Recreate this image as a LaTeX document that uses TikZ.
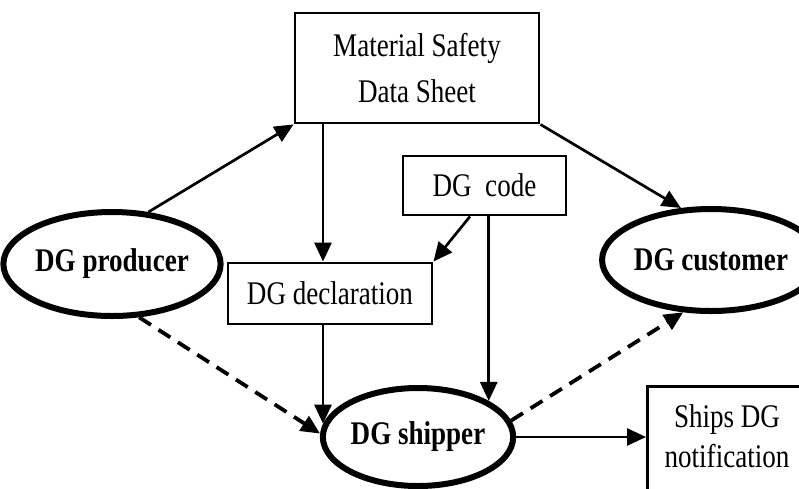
\documentclass[tikz,border=0pt]{standalone}
\usepackage{fontspec}
\setmainfont{Liberation Serif}[FakeStretch=0.82]
\usetikzlibrary{arrows.meta,shapes.geometric}

\tikzset{
  txt/.style={font=\fontsize{33}{46}\selectfont, align=center},
  doc/.style={txt, draw, line width=2.9pt, rectangle, inner sep=0pt},
  party/.style={txt, font=\fontsize{33}{46}\selectfont\bfseries, draw,
    line width=6pt, ellipse, inner sep=0pt},
  flow/.style={line width=2.7pt, -{Triangle[length=19pt,width=17pt]}},
  dflow/.style={flow, line width=3.8pt, dash pattern=on 14pt off 9pt}
}

\begin{document}
\begin{tikzpicture}[x=1pt, y=-1pt]
  \useasboundingbox (0,0) rectangle (799,488);

  % documents
  \node[doc, minimum width=244pt, minimum height=110pt] (msds) at (417,68)
    {Material Safety\\Data Sheet};
  \node[doc, minimum width=163pt, minimum height=59pt] (code) at (484.5,185.5)
    {DG\ \ code};
  \node[doc, minimum width=204pt, minimum height=61pt] (decl) at (330,293.5)
    {DG declaration};
  % notification box runs past the right and bottom edges
  \node[doc, anchor=north west, minimum width=200pt, minimum height=130pt]
    (notif) at (646,385) {};
  \node[txt, font=\fontsize{33}{40}\selectfont, anchor=north] (notiftxt)
    at (727,401) {Ships DG\\notification};

  % parties
  \node[party, minimum width=196pt, minimum height=104pt] (prod) at (112,264)
    {DG producer};
  \node[party, minimum width=176pt, minimum height=102pt] (cust) at (711,260)
    {DG customer};
  \node[party, minimum width=190pt, minimum height=98pt] (ship) at (418,437)
    {DG shipper};

  % vertical lane from the data sheet through the declaration
  \coordinate (lane) at (323,0);

  % information flows
  \draw[flow] (prod.55) -- (msds.south west);
  \draw[flow] (msds.south east) -- (cust.120);
  \draw[flow] (msds.south -| lane) -- (decl.north -| lane);
  \draw[flow] (code.south -| 470,0) -- (decl.north east);
  \draw[flow] (ship.27 |- code.south) -- (ship.27);
  \draw[flow] (decl.south -| lane) -- (lane |- ship.172);
  \draw[flow] (ship.east) -- (ship.east -| notif.west);

  % physical goods flows
  \draw[dflow] (prod.-63) -- (ship.178);
  \draw[dflow] (ship.10) -- (cust.-118);
\end{tikzpicture}
\end{document}
